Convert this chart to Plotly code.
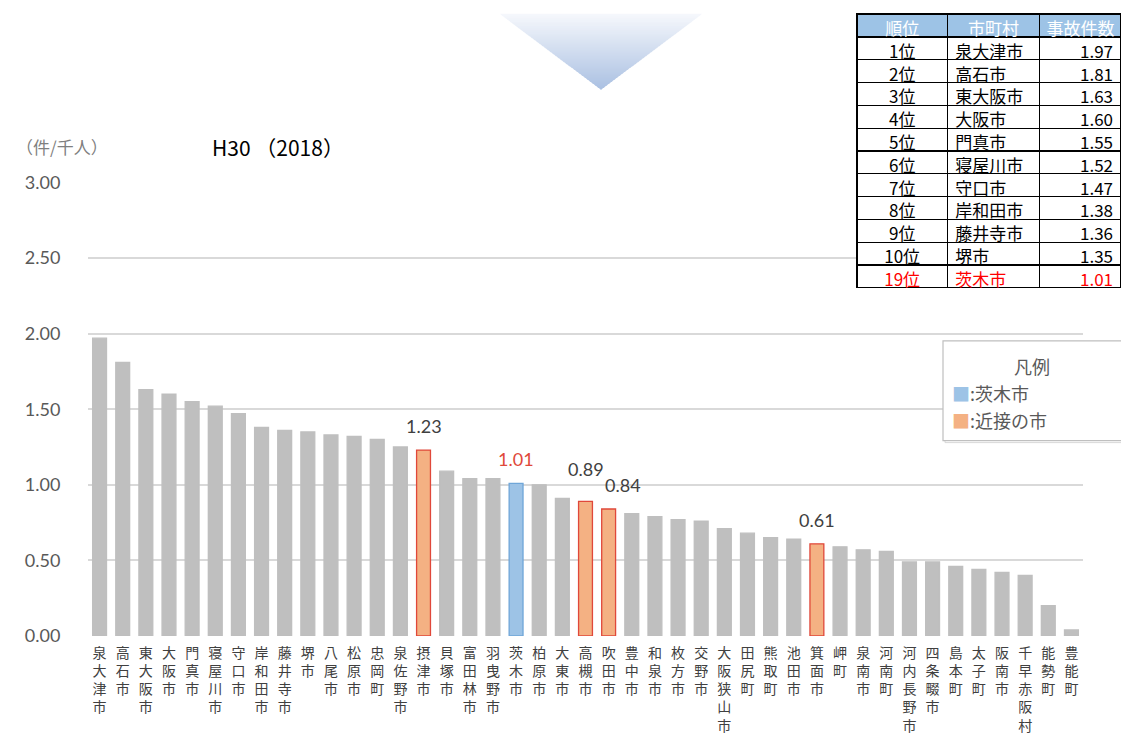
import plotly.graph_objects as go

# ---------------- data ----------------
cities = ["泉大津市", "高石市", "東大阪市", "大阪市", "門真市", "寝屋川市", "守口市", "岸和田市",
          "藤井寺市", "堺市", "八尾市", "松原市", "忠岡町", "泉佐野市", "摂津市", "貝塚市",
          "富田林市", "羽曳野市", "茨木市", "柏原市", "大東市", "高槻市", "吹田市", "豊中市",
          "和泉市", "枚方市", "交野市", "大阪狭山市", "田尻町", "熊取町", "池田市", "箕面市",
          "岬町", "泉南市", "河南町", "河内長野市", "四条畷市", "島本町", "太子町", "阪南市",
          "千早赤阪村", "能勢町", "豊能町"]
values = [1.97, 1.81, 1.63, 1.60, 1.55, 1.52, 1.47, 1.38, 1.36, 1.35, 1.33, 1.32, 1.30, 1.25,
          1.23, 1.09, 1.04, 1.04, 1.01, 1.00, 0.91, 0.89, 0.84, 0.81, 0.79, 0.77, 0.76, 0.71,
          0.68, 0.65, 0.64, 0.61, 0.59, 0.57, 0.56, 0.49, 0.49, 0.46, 0.44, 0.42, 0.40, 0.20, 0.04]
home_city = "茨木市"
neighbor_cities = ["摂津市", "高槻市", "吹田市", "箕面市"]

y_ticks = [0, 0.5, 1.0, 1.5, 2.0, 2.5, 3.0]

table_rank = ["1位", "2位", "3位", "4位", "5位", "6位", "7位", "8位", "9位", "10位", "19位"]
table_city = ["泉大津市", "高石市", "東大阪市", "大阪市", "門真市", "寝屋川市", "守口市",
              "岸和田市", "藤井寺市", "堺市", "茨木市"]
table_value = [1.97, 1.81, 1.63, 1.60, 1.55, 1.52, 1.47, 1.38, 1.36, 1.35, 1.01]
table_header = ["順位", "市町村", "事故件数"]

# ---------------- styling ----------------
GRAY = "#bfbfbf"
BLUE = "#9dc3e6"
ORANGE = "#f4b183"
W, H = 1121, 736
ML, MR, MT, MB = 88, 0, 10, 100
PW, PH = W - ML - MR, H - MT - MB
plot_right = 1083
plot_top = 181


def px_x(x):
    return (x - ML) / PW


def px_y(y):
    return (H - MB - y) / PH


colors, line_colors = [], []
for c in cities:
    if c == home_city:
        colors.append(BLUE); line_colors.append("#6fa6d8")
    elif c in neighbor_cities:
        colors.append(ORANGE); line_colors.append("#e0483a")
    else:
        colors.append(GRAY); line_colors.append(GRAY)

fig = go.Figure()

fig.add_trace(go.Bar(
    x=cities, y=values,
    marker=dict(color=colors, line=dict(color=line_colors, width=1.3)),
    hoverinfo="x+y", showlegend=False,
))

# table
cell_font_colors = [["#000000"] * (len(table_rank) - 1) + ["#ff0000"]] * 3
fig.add_trace(go.Table(
    domain=dict(x=[px_x(857), 1.0], y=[px_y(287), px_y(12)]),
    columnwidth=[89, 91, 80],
    header=dict(values=table_header, fill_color=BLUE,
                line=dict(color="#000000", width=1.2),
                font=dict(family="Noto Sans CJK JP", size=17, color="white"),
                align="center", height=23),
    cells=dict(values=[table_rank, table_city, [f"{v:.2f}" for v in table_value]],
               fill_color="white",
               line=dict(color="#000000", width=1.2),
               font=dict(family="Noto Sans CJK JP", size=17, color=cell_font_colors),
               align=["center", "left", "right"], height=22.8),
))

annotations = []
# data labels
for c, v in zip(cities, values):
    if c == home_city or c in neighbor_cities:
        annotations.append(dict(
            x=c, y=v, xref="x", yref="y", text=f"{v:.2f}", showarrow=False,
            yanchor="bottom", yshift=(11 if c != "高槻市" else 19),
            xshift=(14 if c == "吹田市" else 0),
            font=dict(family="Lato", size=18,
                      color="#e0483a" if c == home_city else "#404040")))

annotations.append(dict(x=px_x(62), y=px_y(145), xref="paper", yref="paper",
                        text="（件/千人）", showarrow=False, xanchor="center", yanchor="middle",
                        font=dict(family="Noto Sans CJK JP", size=17, color="#7f7f7f")))
annotations.append(dict(x=px_x(278), y=px_y(145), xref="paper", yref="paper",
                        text="H30 （2018）", showarrow=False, xanchor="center", yanchor="middle",
                        font=dict(family="Noto Sans CJK JP", size=21, color="#000000")))

shapes = []
# decorative gradient triangle (horizontal strips)
tri_left, tri_right, tri_top, tri_tip_x, tri_tip_y = 500, 702, 12, 601, 88
n_strips = 38
c0 = (246, 248, 252)
c1 = (170, 192, 226)
for i in range(n_strips):
    ya = tri_top + (tri_tip_y - tri_top) * i / n_strips
    yb = tri_top + (tri_tip_y - tri_top) * (i + 1) / n_strips
    fa = i / n_strips
    fb = (i + 1) / n_strips
    xla = tri_left + (tri_tip_x - tri_left) * fa
    xra = tri_right - (tri_right - tri_tip_x) * fa
    xlb = tri_left + (tri_tip_x - tri_left) * fb
    xrb = tri_right - (tri_right - tri_tip_x) * fb
    t = (i + 0.5) / n_strips
    col = "rgb(%d,%d,%d)" % tuple(round(a + (b - a) * t) for a, b in zip(c0, c1))
    path = "M %f %f L %f %f L %f %f L %f %f Z" % (
        px_x(xla), px_y(ya - 0.3), px_x(xra), px_y(ya - 0.3),
        px_x(xrb), px_y(yb + 0.3), px_x(xlb), px_y(yb + 0.3))
    shapes.append(dict(type="path", xref="paper", yref="paper", path=path,
                       fillcolor=col, line=dict(width=0), layer="above"))

# custom legend box
shapes.append(dict(type="rect", xref="paper", yref="paper", x0=px_x(945), x1=px_x(1140),
                   y0=px_y(442), y1=px_y(342), line=dict(color="#d8d8d8", width=1),
                   fillcolor="#ffffff", layer="above"))
shapes.append(dict(type="rect", xref="paper", yref="paper", x0=px_x(943), x1=px_x(1140),
                   y0=px_y(440), y1=px_y(340), line=dict(color="#bfbfbf", width=1.2),
                   fillcolor="#ffffff", layer="above"))
annotations.append(dict(x=px_x(1032), y=px_y(365), xref="paper", yref="paper",
                        text="凡例", showarrow=False, xanchor="center", yanchor="middle",
                        font=dict(family="Noto Sans CJK JP", size=18, color="#595959")))
annotations.append(dict(x=px_x(950), y=px_y(392), xref="paper", yref="paper",
                        text=f"<span style='color:{BLUE}'>■</span>:{home_city}",
                        showarrow=False, xanchor="left", yanchor="middle",
                        font=dict(family="Noto Sans CJK JP", size=18, color="#595959")))
annotations.append(dict(x=px_x(950), y=px_y(419), xref="paper", yref="paper",
                        text=f"<span style='color:{ORANGE}'>■</span>:近接の市",
                        showarrow=False, xanchor="left", yanchor="middle",
                        font=dict(family="Noto Sans CJK JP", size=18, color="#595959")))

fig.update_layout(
    width=W, height=H,
    margin=dict(l=ML, r=MR, t=MT, b=MB),
    paper_bgcolor="white", plot_bgcolor="white",
    bargap=0.4,
    xaxis=dict(domain=[0, px_x(plot_right)],
               tickmode="array", tickvals=cities,
               ticktext=["<br>".join(list(c)) for c in cities],
               tickangle=0, showgrid=False, showline=False, zeroline=False,
               ticks="outside", ticklen=4, tickcolor="rgba(0,0,0,0)",
               tickfont=dict(family="Noto Sans CJK JP", size=14, color="#404040")),
    yaxis=dict(domain=[0, px_y(plot_top)], range=[0, 3], tickvals=y_ticks,
               tickformat=".2f", showgrid=True, gridcolor="#d9d9d9", gridwidth=1.5,
               zeroline=False, showline=False,
               ticks="outside", ticklen=23, tickcolor="rgba(0,0,0,0)",
               tickfont=dict(family="Lato", size=18, color="#595959")),
    shapes=shapes,
    annotations=annotations,
    font=dict(family="Noto Sans CJK JP"),
)

fig.write_html("out.html", config={"displayModeBar": False},
               post_script="document.body.style.margin='0';")
